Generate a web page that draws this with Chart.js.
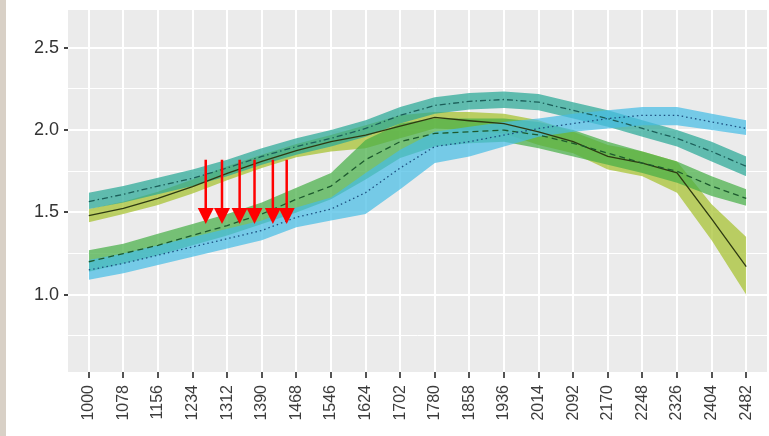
<!DOCTYPE html>
<html><head><meta charset="utf-8">
<script src="https://cdn.jsdelivr.net/npm/chart.js@4"></script>
<style>html,body{margin:0;padding:0;background:#fff;overflow:hidden}canvas{display:block}</style>
</head><body>
<canvas id="c" width="769" height="436"></canvas>
<script>
const categories = ['1000','1078','1156','1234','1312','1390','1468','1546','1624','1702','1780','1858','1936','2014','2092','2170','2248','2326','2404','2482'];
// series A: solid line, olive ribbon
const aMean  = [1.48,1.525,1.585,1.657,1.737,1.81,1.875,1.93,1.97,2.025,2.077,2.057,2.04,1.99,1.93,1.84,1.80,1.74,1.46,1.17];
const aLow   = [1.44,1.49,1.545,1.615,1.695,1.77,1.835,1.87,1.89,1.95,2.01,2.00,1.98,1.91,1.86,1.76,1.72,1.62,1.33,1.00];
const aHigh  = [1.52,1.565,1.625,1.70,1.78,1.85,1.915,1.97,2.03,2.09,2.11,2.11,2.10,2.06,1.99,1.91,1.87,1.81,1.55,1.35];
// series B: dash-dot line, teal ribbon
const bMean  = [1.566,1.61,1.66,1.707,1.77,1.84,1.90,1.95,2.01,2.09,2.15,2.175,2.186,2.17,2.12,2.07,2.01,1.95,1.87,1.78];
const bLow   = [1.52,1.56,1.61,1.66,1.72,1.79,1.85,1.90,1.96,2.04,2.10,2.125,2.135,2.12,2.07,2.02,1.96,1.90,1.81,1.72];
const bHigh  = [1.62,1.66,1.71,1.76,1.82,1.89,1.95,2.00,2.06,2.14,2.20,2.225,2.235,2.22,2.17,2.12,2.06,2.00,1.93,1.84];
// series C: dashed line, green ribbon
const cMean  = [1.20,1.25,1.30,1.36,1.42,1.49,1.58,1.66,1.82,1.93,1.98,1.99,2.00,1.97,1.92,1.86,1.80,1.75,1.66,1.585];
const cLow   = [1.14,1.19,1.24,1.30,1.36,1.43,1.50,1.58,1.70,1.83,1.90,1.92,1.93,1.89,1.84,1.79,1.74,1.68,1.60,1.54];
const cHigh  = [1.27,1.31,1.37,1.43,1.49,1.56,1.65,1.74,1.94,2.04,2.07,2.07,2.07,2.05,2.00,1.93,1.87,1.81,1.72,1.64];
// series D: dotted line, blue ribbon
const dMean  = [1.15,1.19,1.24,1.29,1.34,1.39,1.47,1.52,1.62,1.77,1.90,1.93,1.97,2.01,2.04,2.07,2.09,2.09,2.05,2.01];
const dLow   = [1.09,1.13,1.18,1.23,1.28,1.33,1.41,1.45,1.49,1.64,1.80,1.84,1.90,1.96,1.99,2.01,2.03,2.03,2.00,1.97];
const dHigh  = [1.21,1.25,1.30,1.35,1.40,1.45,1.53,1.59,1.74,1.88,1.99,2.02,2.05,2.07,2.10,2.12,2.14,2.14,2.10,2.06];
// y tick values
const yTicks = [0.75,1.0,1.25,1.5,1.75,2.0,2.25,2.5];
const yMajor = [1.0,1.5,2.0,2.5];
// red arrow annotations (category-index x, value y)
const arrowX = [3.38,3.85,4.36,4.79,5.32,5.72];
const arrowTop = 1.82;
const arrowTip = 1.43;

const pts = arr => arr.map((v,i)=>({x:i,y:v}));

function ribbon(high, low, color, order){
  return [
    {data:pts(high), borderWidth:0, pointRadius:0, fill:false, order:order, tension:0},
    {data:pts(low), borderWidth:0, pointRadius:0, fill:'-1', backgroundColor:color, order:order, tension:0}
  ];
}
function line(mean, color, dash, order){
  return {data:pts(mean), borderColor:color, borderWidth:1.3, borderDash:dash, pointRadius:0, fill:false, order:order, tension:0};
}

const datasets = [
  ...ribbon(aHigh, aLow, 'rgba(165,192,45,0.72)', 8),
  ...ribbon(bHigh, bLow, 'rgba(40,168,150,0.72)', 7),
  ...ribbon(cHigh, cLow, 'rgba(70,175,70,0.72)', 6),
  ...ribbon(dHigh, dLow, 'rgba(70,188,228,0.72)', 5),
  line(aMean, '#2e3a12', [], 4),
  line(bMean, '#1c5f5a', [6,3,1.5,3], 3),
  line(cMean, '#1d5a2e', [6,4], 2),
  line(dMean, '#1c4f80', [1.5,3], 1)
];

const bgPlugin = {
  id:'bg',
  beforeDraw(chart){
    const {ctx, chartArea:a} = chart;
    ctx.save();
    ctx.fillStyle='#ffffff'; ctx.fillRect(0,0,chart.width,chart.height);
    ctx.fillStyle='#d8d0c6'; ctx.fillRect(0,0,6,chart.height);
    ctx.fillStyle='#ebebeb'; ctx.fillRect(a.left,a.top,a.right-a.left,a.bottom-a.top);
    ctx.restore();
  }
};
const arrowPlugin = {
  id:'arrows',
  afterDatasetsDraw(chart){
    const {ctx, scales:{x,y}} = chart;
    ctx.save();
    ctx.strokeStyle='#ff0000'; ctx.fillStyle='#ff0000'; ctx.lineWidth=2.5;
    arrowX.forEach(v=>{
      const px = x.getPixelForValue(v);
      const top = y.getPixelForValue(arrowTop);
      const tip = y.getPixelForValue(arrowTip);
      ctx.beginPath(); ctx.moveTo(px, top); ctx.lineTo(px, tip-14); ctx.stroke();
      ctx.beginPath(); ctx.moveTo(px-8, tip-16); ctx.lineTo(px+8, tip-16); ctx.lineTo(px, tip); ctx.closePath(); ctx.fill();
    });
    ctx.restore();
  }
};

new Chart(document.getElementById('c'), {
  type:'line',
  data:{datasets},
  plugins:[bgPlugin, arrowPlugin],
  options:{
    responsive:false, animation:false, devicePixelRatio:1,
    layout:{padding:{top:10,right:2,left:0,bottom:0}},
    plugins:{legend:{display:false}, tooltip:{enabled:false}},
    scales:{
      x:{
        type:'linear', min:-0.6, max:19.6,
        afterBuildTicks(s){ s.ticks = categories.map((c,i)=>({value:i})); },
        afterFit(s){ s.height = 64; s.paddingLeft = 0; s.paddingRight = 0; },
        grid:{color:'#ffffff', lineWidth:2, tickColor:'#555555', tickLength:6, drawOnChartArea:true},
        border:{display:false},
        ticks:{autoSkip:false, maxRotation:90, minRotation:90, padding:7, color:'#3c3c3c',
          font:{family:'Liberation Sans, Arial, sans-serif', size:16},
          callback:(v)=>categories[v]}
      },
      y:{
        type:'linear', min:0.53, max:2.73,
        afterBuildTicks(s){ s.ticks = yTicks.map(v=>({value:v})); },
        afterFit(s){ s.width = 68; s.paddingTop = 0; s.paddingBottom = 0; },
        grid:{
          color:'#ffffff',
          lineWidth:(c)=> yMajor.includes(c.tick && c.tick.value) ? 2 : 1,
          tickColor:(c)=> yMajor.includes(c.tick && c.tick.value) ? '#444444' : 'rgba(0,0,0,0)',
          tickLength:4
        },
        border:{display:false},
        ticks:{autoSkip:false, padding:5, color:'#333333',
          font:{family:'Liberation Sans, Arial, sans-serif', size:18},
          callback:(v)=> yMajor.includes(v) ? v.toFixed(1) : ''}
      }
    }
  }
});
</script>
</body></html>
